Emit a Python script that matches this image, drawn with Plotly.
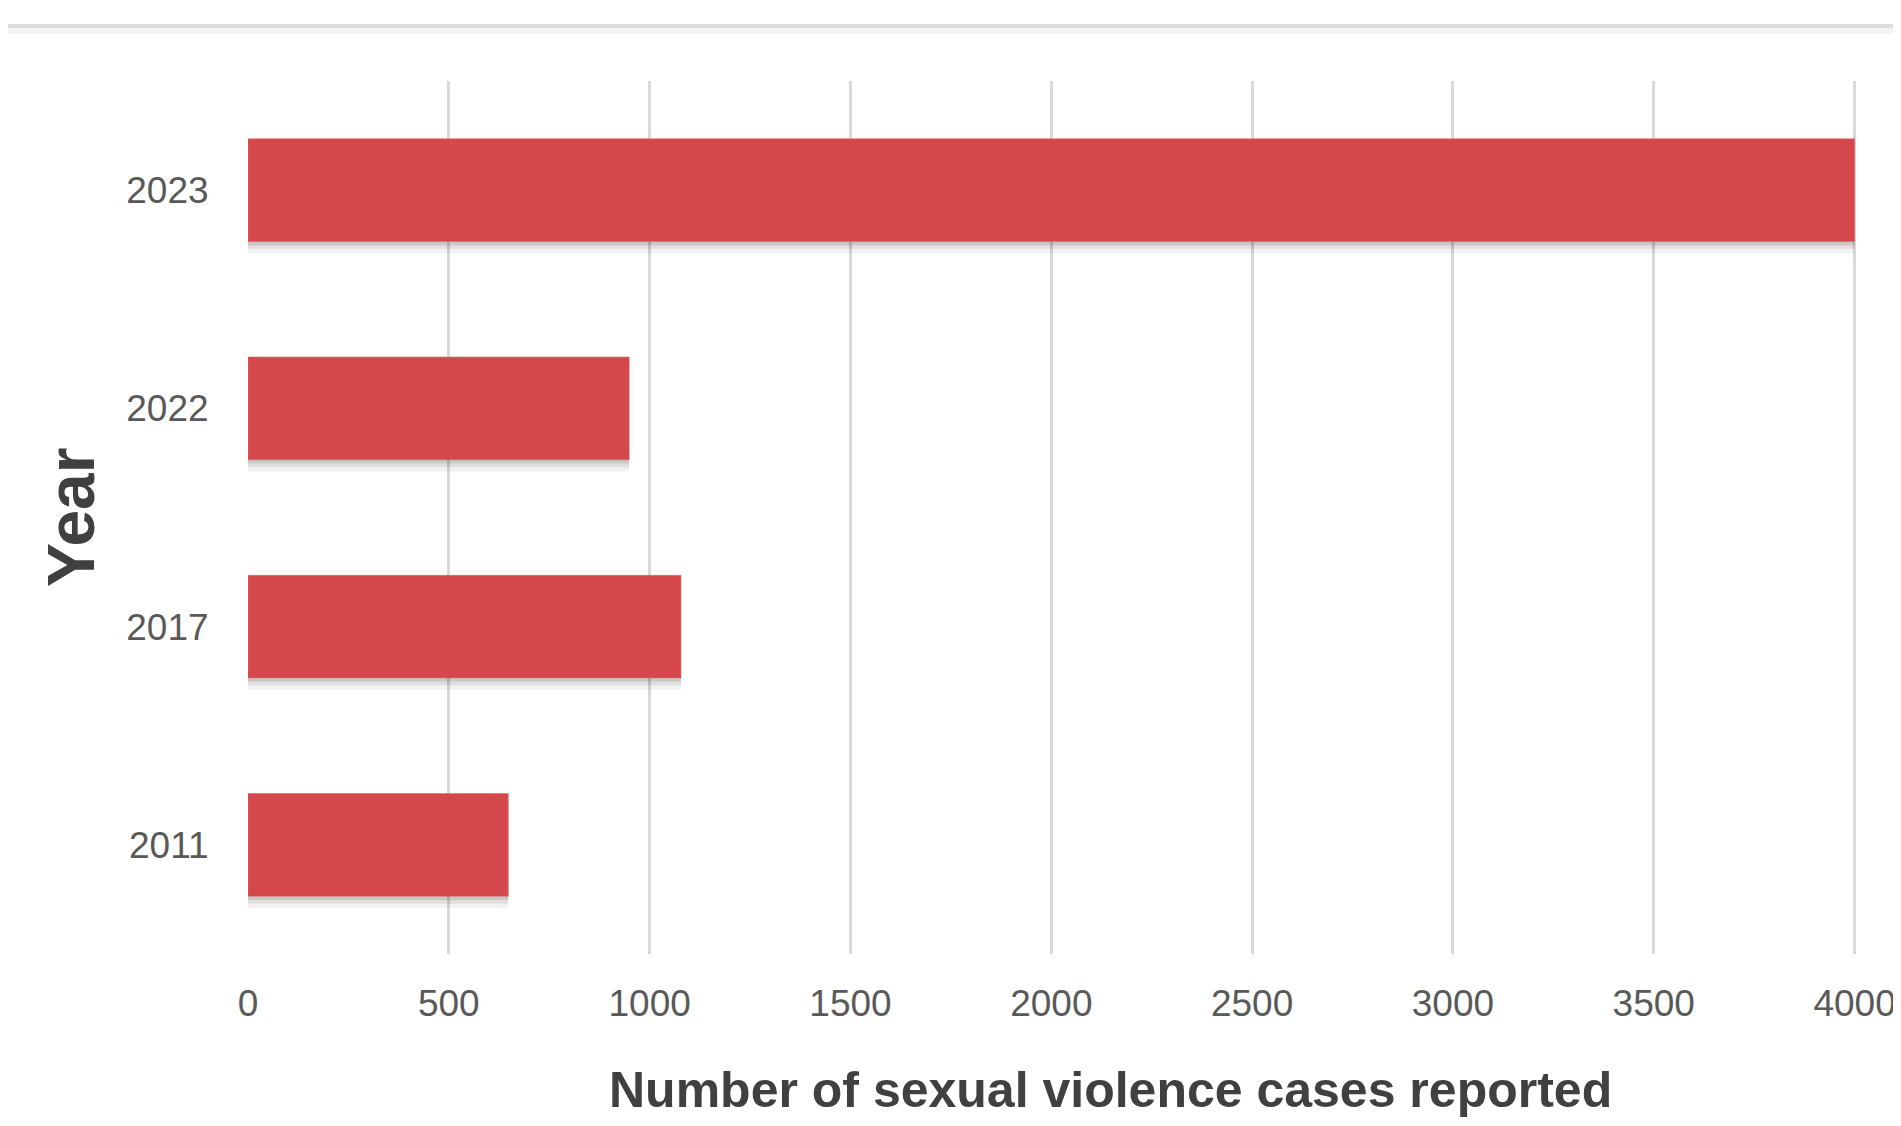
import plotly.graph_objects as go

years = ["2011", "2017", "2022", "2023"]
cases = [648, 1078, 949, 4000]
x_ticks = [0, 500, 1000, 1500, 2000, 2500, 3000, 3500, 4000]

# page body margin offset (8px) compensation
OFF = 8
W, H = 1901 - 2 * OFF, 1126 - 2 * OFF
# plot area in screen pixels: x 248..1857, y 81..954
L = 248 - OFF
T = 81 - OFF
R = W - (1857 - OFF)
B = H - (954 - OFF)
pw, ph = W - L - R, H - T - B


def px(x_screen):
    return (x_screen - OFF - L) / pw


def py(y_screen):
    return (H - B - (y_screen - OFF)) / ph


bar_color = "#D4474A"
bw = 0.47

fig = go.Figure()
# soft drop shadow layers
for off, a in [(0.055, 0.05), (0.035, 0.08), (0.018, 0.10)]:
    fig.add_trace(go.Bar(
        y=years, x=cases, orientation="h", width=bw, offset=-bw / 2 - off,
        marker=dict(color=f"rgba(0,0,0,{a})", line=dict(width=0)),
        hoverinfo="skip", showlegend=False,
    ))
fig.add_trace(go.Bar(
    y=years, x=cases, orientation="h", width=bw, offset=-bw / 2,
    marker=dict(color=bar_color, line=dict(color="rgba(230,100,100,0.6)", width=1)),
    showlegend=False,
))
# invisible trace on overlay axis to draw gridlines above bars
fig.add_trace(go.Scatter(x=[x_ticks[0], x_ticks[-1]], y=[years[0], years[-1]], xaxis="x2",
                         mode="markers", marker=dict(opacity=0), hoverinfo="skip",
                         showlegend=False))

font_family = "Liberation Sans, Arial, sans-serif"
x_range = [0, 4006]

fig.update_layout(
    width=W, height=H,
    margin=dict(l=L, r=R, t=T, b=B, pad=0, autoexpand=False),
    paper_bgcolor="white", plot_bgcolor="white",
    barmode="overlay",
    font=dict(family=font_family, color="#595959"),
    xaxis=dict(
        range=x_range, tickvals=x_ticks, ticktext=[str(v) for v in x_ticks],
        showgrid=False, zeroline=False, showline=False, automargin=False,
        ticks="outside", ticklen=17, tickcolor="rgba(0,0,0,0)",
        ticklabeloverflow="allow",
        tickfont=dict(size=37, color="#595959", family=font_family),
    ),
    xaxis2=dict(
        overlaying="x", matches="x", side="bottom", range=x_range, tickvals=x_ticks,
        showgrid=True, gridcolor="rgba(0,0,0,0.15)", gridwidth=2.5, automargin=False,
        showticklabels=False, zeroline=False, showline=False,
    ),
    yaxis=dict(
        type="category", categoryorder="array", categoryarray=years,
        range=[-0.5, 3.5], showgrid=False, zeroline=False, showline=False, automargin=False,
        ticks="outside", ticklen=31, tickcolor="rgba(0,0,0,0)",
        tickfont=dict(size=37, color="#595959", family=font_family),
    ),
    annotations=[
        dict(text="<b>Number of sexual violence cases reported</b>", xref="paper", yref="paper",
             x=px(1110), y=py(1090), xanchor="center", yanchor="middle",
             showarrow=False, font=dict(size=50, color="#404040", family=font_family)),
        dict(text="<b>Year</b>", xref="paper", yref="paper",
             x=px(71), y=py(518), xanchor="center", yanchor="middle", textangle=-90,
             showarrow=False, font=dict(size=66, color="#404040", family=font_family)),
    ],
    shapes=[
        dict(type="line", xref="paper", yref="paper", x0=px(OFF), x1=px(1901),
             y0=py(26), y1=py(26),
             line=dict(color="#dedede", width=4)),
        dict(type="line", xref="paper", yref="paper", x0=px(OFF), x1=px(1901),
             y0=py(31), y1=py(31),
             line=dict(color="#f4f4f4", width=6)),
    ],
)

fig.write_html("out.html")
